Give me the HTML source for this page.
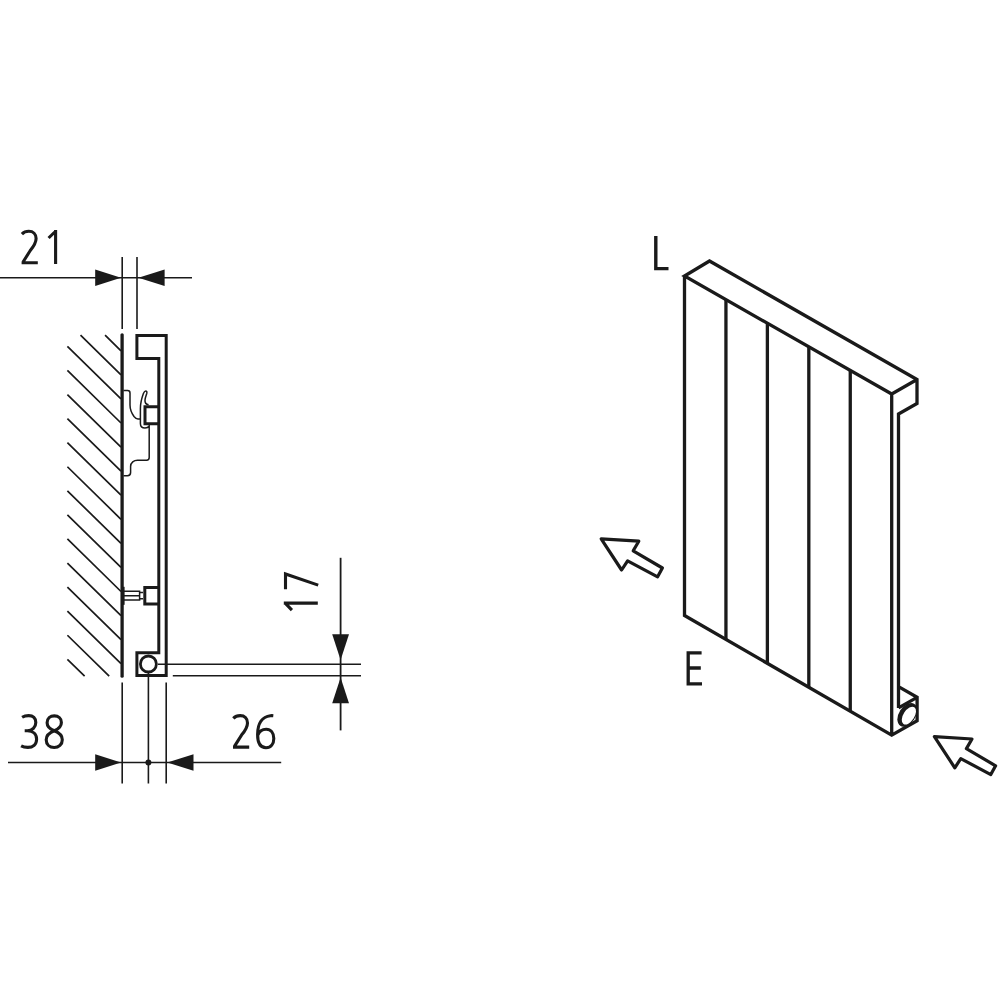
<!DOCTYPE html>
<html><head><meta charset="utf-8"><title>Radiator diagram</title>
<style>html,body{margin:0;padding:0;background:#fff;}body{width:1000px;height:1000px;overflow:hidden;font-family:"Liberation Sans",sans-serif;}svg{display:block}</style>
</head><body>
<svg width="1000" height="1000" viewBox="0 0 1000 1000">
<rect width="1000" height="1000" fill="#fff"/>
<path transform="translate(20.6 229.8)" d="M1.3 4.3 C3.2 2.3 5.6 1.5 8.2 1.5 C12.6 1.5 15.5 4.3 15.5 8.8 C15.5 13.3 13 16.8 9.5 21 L2.6 32 M1.0 33 L17.2 33" fill="none" stroke="#1a1a1a" stroke-width="3.1" stroke-linejoin="miter" stroke-miterlimit="10"/>
<path transform="translate(47.0 229.6)" d="M1.6 8.4 L7.8 2.4 M8.6 0.3 L8.6 34.3" fill="none" stroke="#1a1a1a" stroke-width="3.1" stroke-linejoin="miter" stroke-miterlimit="10"/>
<path transform="translate(20.5 714.1)" d="M1.6 3.2 C3.4 2.1 5.8 1.5 8.2 1.5 C12.6 1.5 15.3 4.1 15.3 8.3 C15.3 13 11.8 16.7 6.8 16.7 L4.2 16.7 M6.8 16.7 C12.6 16.7 16.1 20.2 16.1 25.1 C16.1 30.3 12.4 33.3 7.4 33.3 C4.8 33.3 2.4 32.8 0.6 31.8" fill="none" stroke="#1a1a1a" stroke-width="3.1" stroke-linejoin="miter" stroke-miterlimit="10"/>
<path transform="translate(44.7 714.4)" d="M9.6 16.4 C5 14.6 2.4 12.1 2.4 8.3 C2.4 4.2 5.6 1.5 9.6 1.5 C13.6 1.5 16.7 4.1 16.7 8.1 C16.7 11.9 14.1 14.5 9.6 16.4 C4.6 18.4 1.5 21.1 1.5 25.3 C1.5 30.1 5 33.1 9.5 33.1 C14 33.1 17.6 30.1 17.6 25.3 C17.6 21.1 14.6 18.4 9.6 16.4 Z" fill="none" stroke="#1a1a1a" stroke-width="3.1" stroke-linejoin="miter" stroke-miterlimit="10"/>
<path transform="translate(232.0 714.1)" d="M1.3 4.3 C3.2 2.3 5.6 1.5 8.2 1.5 C12.6 1.5 15.5 4.3 15.5 8.8 C15.5 13.3 13 16.8 9.5 21 L2.6 32 M1.0 33 L17.2 33" fill="none" stroke="#1a1a1a" stroke-width="3.1" stroke-linejoin="miter" stroke-miterlimit="10"/>
<path transform="translate(256.0 714.1)" d="M17.3 1.6 C16.4 1.5 15.4 1.5 14.4 1.6 C6.4 2.4 1.6 9.2 1.6 20.5 C1.6 29 4.6 33.7 10 33.7 C15 33.7 17.8 29.5 17.8 24.5 C17.8 18.6 14.7 15.1 10.2 15.1 C6 15.1 3.1 17.5 1.9 21" fill="none" stroke="#1a1a1a" stroke-width="3.1" stroke-linejoin="miter" stroke-miterlimit="10"/>
<path transform="translate(283.9 589.2) rotate(-90)" d="M0 1.6 L15.2 1.6 L4.1 34.3" fill="none" stroke="#1a1a1a" stroke-width="3.1" stroke-linejoin="miter" stroke-miterlimit="10"/>
<path transform="translate(283.5 611.7) rotate(-90)" d="M1.6 8.4 L7.8 2.4 M8.6 0.3 L8.6 34.3" fill="none" stroke="#1a1a1a" stroke-width="3.1" stroke-linejoin="miter" stroke-miterlimit="10"/>
<line x1="0" y1="277.8" x2="192" y2="277.8" stroke="#1a1a1a" stroke-width="1.6" stroke-linecap="butt"/>
<line x1="122.2" y1="257" x2="122.2" y2="329" stroke="#1a1a1a" stroke-width="1.6" stroke-linecap="butt"/>
<line x1="137.0" y1="257" x2="137.0" y2="329" stroke="#1a1a1a" stroke-width="1.6" stroke-linecap="butt"/>
<polygon points="95.2,269.6 121.0,277.8 95.2,286.0" fill="#1a1a1a"/>
<polygon points="164.6,269.6 138.4,277.8 164.6,286.0" fill="#1a1a1a"/>
<line x1="8" y1="762.5" x2="281.2" y2="762.5" stroke="#1a1a1a" stroke-width="1.6" stroke-linecap="butt"/>
<line x1="122.2" y1="682.4" x2="122.2" y2="783.5" stroke="#1a1a1a" stroke-width="1.6" stroke-linecap="butt"/>
<line x1="148.4" y1="664" x2="148.4" y2="783.5" stroke="#1a1a1a" stroke-width="1.6" stroke-linecap="butt"/>
<line x1="166.2" y1="682.4" x2="166.2" y2="783.5" stroke="#1a1a1a" stroke-width="1.6" stroke-linecap="butt"/>
<polygon points="95.2,754.3 121.0,762.5 95.2,770.7" fill="#1a1a1a"/>
<polygon points="193.5,754.3 167.3,762.5 193.5,770.7" fill="#1a1a1a"/>
<circle cx="148.4" cy="762.5" r="3" fill="#1a1a1a"/>
<line x1="340.6" y1="557.8" x2="340.6" y2="730.4" stroke="#1a1a1a" stroke-width="1.8" stroke-linecap="butt"/>
<line x1="158" y1="664.3" x2="361" y2="664.3" stroke="#1a1a1a" stroke-width="1.6" stroke-linecap="butt"/>
<line x1="172.8" y1="675.8" x2="361" y2="675.8" stroke="#1a1a1a" stroke-width="1.6" stroke-linecap="butt"/>
<polygon points="332.2,634.2 349.0,634.2 340.6,660.0" fill="#1a1a1a"/>
<polygon points="332.2,703.3 349.0,703.3 340.6,677.5" fill="#1a1a1a"/>
<path d="M105.08 335.20L121.00 350.80M80.52 335.20L121.00 374.87M67.40 346.41L121.00 398.94M67.40 370.48L121.00 423.01M67.40 394.55L121.00 447.08M67.40 418.62L121.00 471.15M67.40 442.69L121.00 495.22M67.40 466.76L121.00 519.29M67.40 490.83L121.00 543.36M67.40 514.90L121.00 567.43M67.40 538.97L121.00 591.50M67.40 563.04L121.00 615.57M67.40 587.11L121.00 639.64M67.40 611.18L121.00 663.71M67.40 635.25L109.18 676.20M67.40 659.32L84.62 676.20" stroke="#1a1a1a" stroke-width="1.7" fill="none"/>
<line x1="122.1" y1="334.8" x2="122.1" y2="676.2" stroke="#1a1a1a" stroke-width="3.3" stroke-linecap="round"/>
<path d="M158.8 652.8 L136.9 652.8 L136.9 675.6 L166.2 675.6 L166.2 335.5 L136.9 335.5 L136.9 358.6 L158.8 358.6 Z" fill="none" stroke="#1a1a1a" stroke-width="3" stroke-linejoin="miter"/>
<circle cx="148.4" cy="664" r="8" fill="#fff" stroke="#1a1a1a" stroke-width="2.8"/>
<path d="M123.5 390.5 L127.6 390.5 Q130 390.5 130 393 L130 405 C130 409 131.5 413 134 416.5 Q136 419 138 419 L140.4 419" fill="none" stroke="#1a1a1a" stroke-width="1.5"/>
<path d="M148.6 404.8 C146 404.5 144.8 402.5 145 400 C145.2 397.5 146.3 395 146.8 393.2 C147.2 391.5 146.4 390.8 145.6 390.9 C144.6 391 144 392 143.4 393.6 C141.8 398 140.4 403 140.4 408.5 L140.4 423.5 C140.4 426.5 142.5 428 145 428 C147 428 148.6 427 149.2 426 L149.2 457.6 Q149.2 460.2 146.6 460.2 L137.5 460.2 C134 460.2 130.6 462.5 130.6 466.5 L130.6 472.6 Q130.6 475.8 127.4 475.8 L123.5 475.8" fill="none" stroke="#1a1a1a" stroke-width="1.5"/>
<path d="M158.8 406.7 L145 406.7 L145 423.8 L158.8 423.8" fill="none" stroke="#1a1a1a" stroke-width="3"/>
<rect x="122" y="586.8" width="2.6" height="18" fill="#1a1a1a"/>
<path d="M124 591.3 L139.6 591.3 L139.6 600 L124 600 M124 595.8 L139.6 595.8 M139.6 592.6 L143 592.6 M139.6 598.8 L143 598.8" fill="none" stroke="#1a1a1a" stroke-width="1.5"/>
<path d="M158.8 587.5 L144.8 587.5 L144.8 604.1 L158.8 604.1" fill="none" stroke="#1a1a1a" stroke-width="3"/>
<path d="M891.7 394 L684.5 276 L709.5 261 L917 379.5 L917 403.5 L898.5 414 L898.5 707.9 M917 379.5 L891.7 394 L891.7 735.2 M684.5 276 L684.5 615.5 L891.7 735.2 L917.1 720.8 L917.1 697.2 L898.5 686.6 M917.1 697.4 L898.5 707.9" fill="none" stroke="#1a1a1a" stroke-width="3.3" stroke-linejoin="miter" stroke-miterlimit="4"/>
<line x1="725.94" y1="299.6" x2="725.94" y2="639.44" stroke="#1a1a1a" stroke-width="3.3" stroke-linecap="butt"/>
<line x1="767.38" y1="323.2" x2="767.38" y2="663.38" stroke="#1a1a1a" stroke-width="3.3" stroke-linecap="butt"/>
<line x1="808.82" y1="346.8" x2="808.82" y2="687.32" stroke="#1a1a1a" stroke-width="3.3" stroke-linecap="butt"/>
<line x1="850.26" y1="370.4" x2="850.26" y2="711.26" stroke="#1a1a1a" stroke-width="3.3" stroke-linecap="butt"/>
<ellipse cx="907.3" cy="714.8" rx="13" ry="8.3" transform="rotate(-57 907.3 714.8)" fill="#1a1a1a"/>
<ellipse cx="908.9" cy="715.6" rx="10.0" ry="5.5" transform="rotate(-57 908.9 715.6)" fill="#fff"/>
<path d="M655.8 236 L655.8 268.6 L668.5 268.6" fill="none" stroke="#1a1a1a" stroke-width="3.4"/>
<path d="M701.6 652.9 L688.2 652.9 L688.2 683.9 L702 683.9 M688.2 668 L700.8 668" fill="none" stroke="#1a1a1a" stroke-width="3.3"/>
<path d="M601.2 538.8 L638.8 541.2 L633.2 550.8 L662.4 568.0 L657.6 576.8 L627.6 560.8 L621.6 570.0 Z" fill="none" stroke="#1a1a1a" stroke-width="3.2" stroke-linejoin="round"/>
<path d="M934.4 736.6 L972.0 739.0 L966.4 748.6 L995.6 765.8 L990.8 774.6 L960.8 758.6 L954.8 767.8 Z" fill="none" stroke="#1a1a1a" stroke-width="3.2" stroke-linejoin="round"/>
</svg>
</body></html>
